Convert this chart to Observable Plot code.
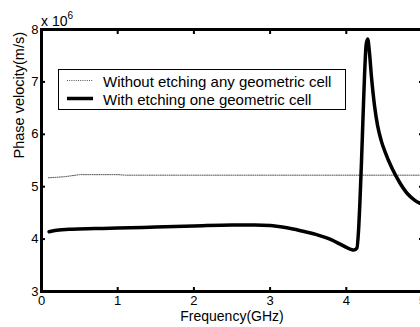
<!DOCTYPE html>
<html>
<head>
<meta charset="utf-8">
<script src="https://cdn.jsdelivr.net/npm/d3@7"></script>
<script src="https://cdn.jsdelivr.net/npm/@observablehq/plot@0.6"></script>
<style>
  html, body { margin: 0; padding: 0; background: white; overflow: hidden; }
  #wrap { position: relative; width: 420px; height: 327px; font-family: "Liberation Sans", Arial, sans-serif; }
  #wrap svg.plot { overflow: visible; }
  .exp { position: absolute; left: 41px; top: 12px; font-size: 14px; line-height: 1; }
  .exp sup { font-size: 10px; position: relative; top: -1px; }
  .legend { position: absolute; left: 58px; top: 69px; }
</style>
</head>
<body>
<div id="wrap"></div>
<script>
// Tick values
const xTicks = [0, 1, 2, 3, 4, 5];
const yTicks = [3, 4, 5, 6, 7, 8];

// Series: Without etching any geometric cell
const freqWithout = [0.09, 0.2, 0.3, 0.4, 0.5, 0.6, 1.0, 1.1, 2.0, 3.0, 4.0, 5.0];
const velWithout  = [5.17, 5.18, 5.19, 5.21, 5.23, 5.23, 5.23, 5.22, 5.22, 5.22, 5.22, 5.22];

// Series: With etching one geometric cell
const freqWith = [0.1, 0.2, 0.4, 0.7, 1.0, 1.5, 2.0, 2.5, 2.8, 3.0, 3.2, 3.4, 3.6, 3.8, 3.95, 4.05, 4.1, 4.14, 4.16, 4.18, 4.2, 4.22, 4.24, 4.26, 4.28, 4.3, 4.33, 4.37, 4.41, 4.46, 4.51, 4.6, 4.7, 4.8, 4.9, 5.0];
const velWith  = [4.14, 4.17, 4.19, 4.2, 4.21, 4.23, 4.25, 4.27, 4.27, 4.26, 4.22, 4.16, 4.09, 3.99, 3.88, 3.81, 3.79, 3.83, 4.15, 4.75, 5.5, 6.35, 7.15, 7.7, 7.82, 7.62, 7.1, 6.55, 6.17, 5.87, 5.66, 5.35, 5.08, 4.87, 4.74, 4.66];

const seriesNames = ["Without etching any geometric cell", "With etching one geometric cell"];

const dataWithout = freqWithout.map((f, i) => ({f, v: velWithout[i]}));
const dataWith = freqWith.map((f, i) => ({f, v: velWith[i]}));

const noText = () => "";
const intText = (d) => String(d);

const chart = Plot.plot({
  width: 420,
  height: 327,
  marginLeft: 41,
  marginRight: -2,
  marginTop: 29,
  marginBottom: 36,
  style: {fontFamily: "'Liberation Sans', Arial, sans-serif", fontSize: "13px", color: "black", background: "white", overflow: "visible"},
  x: {domain: [0, 5]},
  y: {domain: [3, 8]},
  marks: [
    Plot.line(dataWithout, {x: "f", y: "v", stroke: "#555", strokeWidth: 1, strokeDasharray: "1,1.2"}),
    Plot.line(dataWith, {x: "f", y: "v", stroke: "black", strokeWidth: 3.5, curve: "monotone-x"}),
    Plot.frame({stroke: "black", strokeWidth: 3}),
    Plot.axisX(xTicks, {anchor: "bottom", tickSize: -4, strokeWidth: 2, tickFormat: noText, label: null}),
    Plot.axisX(xTicks, {anchor: "top", tickSize: -4, strokeWidth: 2, tickFormat: noText, label: null}),
    Plot.axisY(yTicks, {anchor: "left", tickSize: -4, strokeWidth: 2, tickFormat: noText, label: null}),
    Plot.axisY(yTicks, {anchor: "right", tickSize: -4, strokeWidth: 2, tickFormat: noText, label: null}),
    Plot.axisX(xTicks, {anchor: "bottom", tickSize: 0, tickPadding: 4, fontSize: 13, tickFormat: intText, label: null}),
    Plot.axisY(yTicks, {anchor: "left", tickSize: 0, tickPadding: 3, fontSize: 13, tickFormat: intText, label: null}),
    Plot.text(["Frequency(GHz)"], {frameAnchor: "bottom", dy: 25, fontSize: 14, lineAnchor: "middle"}),
    Plot.text(["Phase velocity(m/s)"], {frameAnchor: "left", dx: -22, dy: -2, rotate: -90, fontSize: 14.5, lineAnchor: "middle"})
  ]
});

const wrap = document.getElementById("wrap");
wrap.appendChild(chart);

const exp = document.createElement("div");
exp.className = "exp";
exp.innerHTML = "x 10<sup>6</sup>";
wrap.appendChild(exp);

// Legend
const leg = d3.create("svg").attr("class", "legend").attr("width", 288).attr("height", 41);
leg.append("rect").attr("x", 0.5).attr("y", 0.5).attr("width", 287).attr("height", 40).attr("fill", "white").attr("stroke", "black").attr("stroke-width", 1);
const rows = [
  {name: seriesNames[0], stroke: "#555", width: 1, dash: "1,1.2"},
  {name: seriesNames[1], stroke: "black", width: 3.5, dash: null}
];
rows.forEach((r, i) => {
  const y = 11.5 + i * 18;
  leg.append("line").attr("x1", 9).attr("x2", 35).attr("y1", y).attr("y2", y)
    .attr("stroke", r.stroke).attr("stroke-width", r.width).attr("stroke-dasharray", r.dash);
  leg.append("text").attr("x", 45).attr("y", y + 1).attr("dy", "0.35em")
    .attr("font-size", 15).attr("font-family", "'Liberation Sans', Arial, sans-serif").text(r.name);
});
wrap.appendChild(leg.node());
</script>
</body>
</html>
